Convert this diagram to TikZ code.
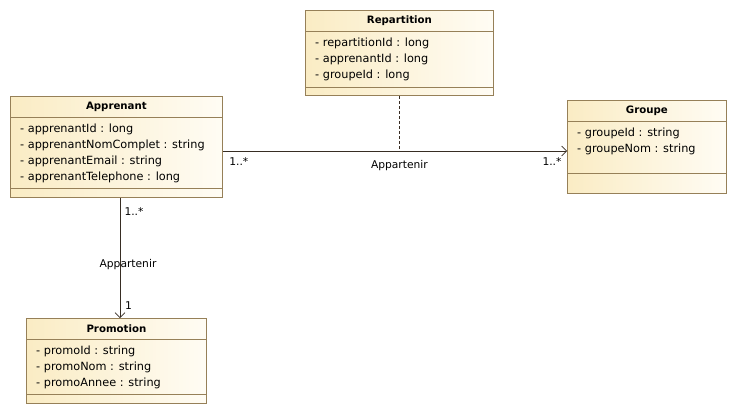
\documentclass[tikz,border=0pt]{standalone}
\usepackage{fontspec}
\setmainfont{DejaVu Sans}
\usetikzlibrary{calc,arrows.meta}

\definecolor{umlborder}{RGB}{150,128,88}
\definecolor{umlfill}{RGB}{250,236,196}
\definecolor{umlpale}{RGB}{255,252,244}
\definecolor{umlline}{RGB}{55,45,35}

\begin{document}
\begin{tikzpicture}[x=1pt, y=-1pt,
    classbox/.style={draw=umlborder, left color=umlfill, right color=umlpale, line width=0.8pt, inner sep=0pt},
    classname/.style={font=\bfseries\fontsize{10.2}{12}\selectfont, inner sep=0pt},
    attr/.style={font=\fontsize{11.3}{13}\selectfont, anchor=west, inner sep=0pt},
    mult/.style={font=\fontsize{10.7}{12}\selectfont, inner sep=0pt},
    assoc/.style={draw=umlline, line width=0.7pt, -{Straight Barb[length=5pt, width=10pt]}}]
  \useasboundingbox (0,0) rectangle (737,415);

  % classes
  \foreach \id/\x/\y/\w/\h/\hs/\as/\title/\attrs in {
      repartition/305/10/188/85/21/77/Repartition/{repartitionId : long, apprenantId : long, groupeId : long},
      apprenant/10/96/212/101/21/92/Apprenant/{apprenantId : long, apprenantNomComplet : string, apprenantEmail : string, apprenantTelephone : long},
      groupe/567/100/159/93/21/73/Groupe/{groupeId : string, groupeNom : string},
      promotion/26/318/180/85/21/76/Promotion/{promoId : string, promoNom : string, promoAnnee : string}}
  {
    \node[classbox, minimum width=\w pt, minimum height=\h pt, anchor=north west] (\id) at (\x,\y) {};
    \draw[umlborder, line width=0.8pt] ($(\id.north west)+(0,\hs)$) -- ($(\id.north east)+(0,\hs)$);
    \draw[umlborder, line width=0.8pt] ($(\id.north west)+(0,\as)$) -- ($(\id.north east)+(0,\as)$);
    \node[classname] (\id-t) at ($(\id.north)+(0,11)$) {\title};
    \foreach \a [count=\k] in \attrs {
      \node[attr] (\id-a\k) at ($(\id.north west)+(10,\hs+12.5+16*\k-16)$) {- \a};
    }
  }

  % associations
  \coordinate (ag) at ($(apprenant.north east)+(0,55)$);
  \coordinate (gg) at (ag -| groupe.west);
  \coordinate (rp) at (repartition.south |- ag);
  \draw[assoc] (ag) -- (gg);
  \draw[umlline, line width=0.6pt, dash pattern=on 3pt off 2pt] (repartition.south) -- (rp);
  \node[mult] (m1) at ($(ag)+(16,11)$) {1..*};
  \node[mult] (m2) at ($(gg)+(-15,11)$) {1..*};
  \node[mult] (l1) at ($(rp)+(0,15)$) {Appartenir};

  \coordinate (ap) at ($(apprenant.south west)+(110,0)$);
  \coordinate (pa) at (ap |- promotion.north);
  \draw[assoc] (ap) -- (pa);
  \node[mult] (m3) at ($(ap)+(14,14)$) {1..*};
  \node[mult] (l2) at ($(ap)+(8,67)$) {Appartenir};
  \node[mult] (m4) at ($(pa)+(8.5,-12.5)$) {1};
\end{tikzpicture}
\end{document}
